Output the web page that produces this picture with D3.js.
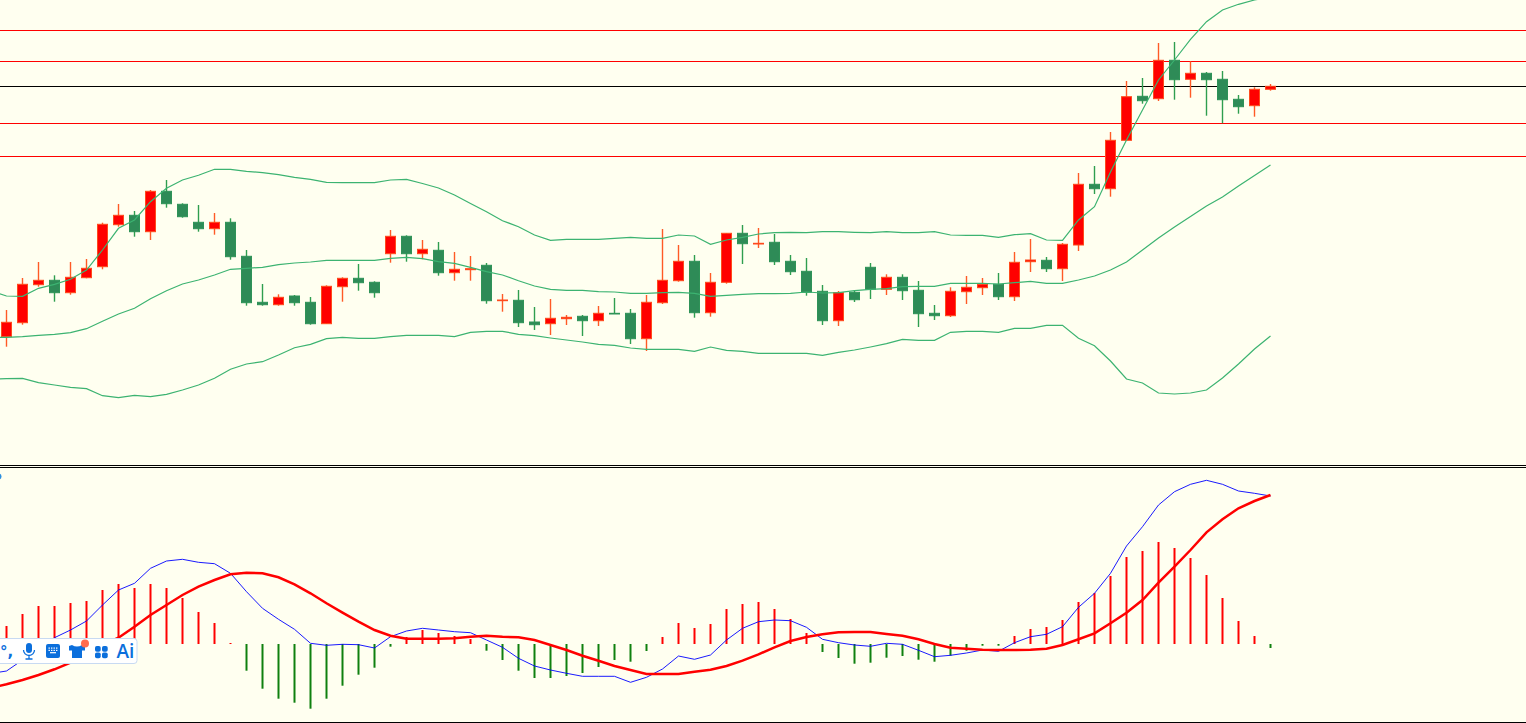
<!DOCTYPE html>
<html>
<head>
<meta charset="utf-8">
<script src="https://cdn.jsdelivr.net/npm/d3@7"></script>
<style>
html, body { margin: 0; padding: 0; background: #fffff0; overflow: hidden; }
svg { display: block; }
</style>
</head>
<body>
<svg id="chart" width="1526" height="723"></svg>
<script>
// first bar sits just off the left edge, the lines run in from it
const open = [125, 129.3,143.3,181.3,185.7,173.3,188.3,199.3,241.3,250.7,234.3,
  274.7,261.7,243.7,237.3,243.7,209.7,163.7,161.3,170,163.7,
  142.3,179.3,187.7,183.7,212.3,229.7,212.3,215.7,193.3,196.3,
  200.7,165.3,165.7,144,142.3,147.3,149.7,145.3,152.7,152.7,
  127.3,163.3,185.3,204.7,153.3,183.7,232.7,222,223.7,204.7,
  194.7,174.7,145.3,173.7,198.7,176.7,188.7,175.7,152.7,150.3,
  174.3,178.3,181.7,169.3,204.3,205.7,197.3,221,281.7,277.3,
  325.7,369.7,367.3,405.7,386.7,392.7,386.7,366.7,360.3,376.7];
const high = [136, 156,188,204,190.7,204,207,243.3,262,255,276,
  286,262.7,261,253,247.7,216,182,171.7,171,169,
  180.7,188.7,202,184.7,236,230.7,226,224,214,210,
  203,172,176,159,167,151,151,160,168,157,
  171,237,221,211,193,233,241,238,232,211,
  208,181,175,175.7,203,191.7,191.7,185,161,178.7,
  190,188,193,214,227,209,223,293,300,334,
  385,388,423,424,404.7,394,395,371,378.7,382];
const low = [120, 119.3,141.3,179.3,164.3,171.3,187.7,196.7,239.3,229.3,226,
  258.3,248.3,234.3,231.3,206.3,160.3,160.3,160.3,160.3,141.3,
  142.3,164.3,175.3,168.3,203.3,204.3,206.7,190.3,185.3,185.3,
  162.3,154.3,139,136,131,141,130,140,152,122,
  115,162,184.3,148.3,149.3,182.3,202,218,201,191,
  170.3,141,140,164,167,171,166,139,146,149,
  162,171,166,165,194,194,185,215,272,269.3,
  325,362.3,365,366.3,368.3,350.3,342.7,352.3,349.3,375.3];
const close = [129.3, 143.7,181.7,185.7,173.3,188.7,197.7,241.7,250.7,234.3,274.7,
  262.3,249.3,237.3,243.7,209.3,163.3,161.3,168.7,163.3,142.3,
  179.7,187.7,183.3,173.3,229.7,212.3,216.7,193.3,196.7,197.3,
  165.3,166,143.3,141.3,147.7,148.7,145.3,152.7,152,127.3,
  163.7,185.7,204.7,153.3,183.7,232.7,222.3,222.7,204.3,194.3,
  173.7,145.3,173.3,166.3,176.7,188.7,175.3,152.3,150.3,174.7,
  178.7,181.7,169.3,203.7,206,197.3,221.7,281.7,277.3,325.7,
  369.3,365.3,405.7,386.3,392.7,386.3,366.3,359.3,376.7,379.7];

const bandUpper = [175, 170,169.7,177.7,181.7,186.7,196,216,237.7,246,264.3,
  277.7,286,290.7,296.7,296.7,294.7,293.3,291.3,288.7,286.7,
  283.7,283.3,283.3,283.3,286,286.7,282.5,278,271,262.5,
  254.3,245.3,239.3,231,225.7,226.7,226.7,226.7,227.7,228.7,
  227.7,227.7,231,230,221.7,226,228.7,232,233.3,233.7,
  233.3,234.3,234.3,233.7,233.3,234.3,233.3,233.3,234.3,231,
  230.7,230.7,228.7,231.3,232.3,226,225.7,246,259.3,294,
  326,356,386,406,426.7,444.3,456,461.7,466,469];
const bandMiddle = [128.5, 128.7,129.3,130.7,131.7,133.3,137.3,144.7,152,157.7,167.3,
  175.3,182,186,191,196.7,197.7,198.7,201.3,203,204,
  205.7,205.7,205.7,205.7,207.7,208.7,207.3,204.3,202.7,198.7,
  194.3,191,185.3,180,176.7,175.7,175.7,174.3,174,172.7,
  172.7,173.3,173.7,172.7,169.7,170.7,171.7,172.3,172.3,172.7,
  174,173,173.3,175.3,176.7,177.3,179.3,179.7,179.7,182.7,
  182.7,182.7,182,183.3,184.7,182.7,182.7,186,190,196,
  204,216,228,239,249.5,260,269,280,290.5,301];
const bandLower = [87, 87.3,87.7,83.3,81,78.7,77.3,70.3,68.3,70.7,69.3,
  71.7,76,81,87.7,96.7,102,104.3,111,118.3,121.7,
  127.3,128.7,127.7,127.7,129.3,130.7,130.7,130.7,129.3,133.7,
  134.7,134.7,131.7,130.3,128,126,124,121.7,120.7,118,
  116.7,116.7,116.7,114.7,119,115.7,114.7,112.7,112.7,112.7,
  112.7,110.7,113.7,116,119,122.3,126.7,125.7,125.7,133.7,
  134.7,134.7,133.7,137.7,137.7,140.7,140.7,127.7,120.3,105,
  87,83,73,72,73,76,88,102,117,130];
const levelLines = [435.5, 404.5, 342.5, 309.5];
const currentLevel = 379.5;

// macd pane, zero line is where the histogram turns round
const hist = [4, 18,30,38,38,41,43,54,60,56,60,
  56,46,32,21,1,-26.7,-44.7,-54.7,-58.7,-64.7,
  -54.7,-41.7,-30.7,-23.7,-2.7,7,14,11,8,5,
  -6.7,-16,-26.7,-34,-34,-32,-29,-23,-16,-17.7,
  -7,7,21,16,20,35,40,42,35,25,
  11,-8,-14,-19.7,-18.7,-13.7,-12,-15.7,-17.7,-11.7,
  -6.7,-1.7,-1.7,8,15,17,24,42,51,68,
  87,93,102,96,86,69,46,23,8,-4];
const macdLine = [-29.5, -27,-16,-6,6.3,14,23,39,54,60.7,75.7,
  83,84.7,81.7,80.3,70.7,52.3,35.7,24.7,14.7,0.7,
  -1.3,-0.3,-0.7,-4,7.3,13,15.7,14,12.3,11.3,
  4,-3.3,-14.3,-22,-26,-29.3,-32.3,-32.3,-32.3,-38.3,
  -33.3,-25,-12,-15.3,-11,4,15.7,22.3,24,23.3,
  16.7,4.7,1.3,-1,-2.3,0.7,-0.3,-6.3,-12.7,-11.3,
  -9,-6,-7.3,1.3,7.3,9.7,17.3,36.7,50.7,70.7,
  98,117.3,139,152.3,159.7,163.7,159.7,153,150.7,148];
const signalLine = [-44, -40.3,-36,-31,-25.3,-18.7,-9,-1,6.3,17.3,29,
  39,49,57.3,64,69.7,71.3,70.7,66.7,59.7,50.7,
  40.7,31.3,22.3,14,8.3,5.3,5.3,5.3,5.7,7.3,
  8.3,7.3,6.7,4,-1,-6,-11.7,-16.7,-22,-26,
  -30,-30,-30,-27.7,-25.7,-22,-16.7,-10.3,-3.3,3,
  7,9.7,11.7,12,12,10,8.3,4.7,0,-3.7,
  -4.7,-5.7,-6,-6,-5.7,-4.7,-1,4.7,10.7,20.7,
  31.3,44,61.3,77.3,94,111.7,124.7,135.7,143,149];

const svg = d3.select('#chart');
const W = 1526, H = 723;

const x = d3.scaleLinear().domain([0, 80]).range([-9.5, 1270.5]);
const yPrice = d3.scaleLinear().domain([0, 466]).range([466, 0]);
const yMacd = d3.scaleLinear().domain([-78, 177]).range([722, 467]);

svg.append('rect').attr('width', W).attr('height', H).attr('fill', '#fffff0');

// price pane levels
levelLines.forEach(v => {
    svg.append('line')
        .attr('x1', 0).attr('x2', W)
        .attr('y1', yPrice(v)).attr('y2', yPrice(v))
        .attr('stroke', '#ff0000').attr('stroke-width', 1);
});
svg.append('line')
    .attr('x1', 0).attr('x2', W)
    .attr('y1', yPrice(currentLevel)).attr('y2', yPrice(currentLevel))
    .attr('stroke', '#000000').attr('stroke-width', 1);

// candles
const bars = d3.range(open.length);
const isUp = i => close[i] >= open[i];

svg.append('g').selectAll('line').data(bars).join('line')
    .attr('x1', i => x(i)).attr('x2', i => x(i))
    .attr('y1', i => yPrice(high[i])).attr('y2', i => yPrice(low[i]))
    .attr('stroke', i => isUp(i) ? '#ff5a26' : '#2f9e4f')
    .attr('stroke-width', 1.4);

svg.append('g').selectAll('rect').data(bars).join('rect')
    .attr('x', i => x(i) - 5)
    .attr('width', 10)
    .attr('y', i => yPrice(Math.max(open[i], close[i])))
    .attr('height', i => Math.abs(open[i] - close[i]))
    .attr('fill', i => isUp(i) ? '#ff0000' : '#2e8b57')
    .attr('stroke', i => isUp(i) ? '#ff4a1c' : '#2f9358')
    .attr('stroke-width', 1);

// bollinger bands
const bandLine = d3.line().x((d, i) => x(i)).y(d => yPrice(d));
[bandUpper, bandMiddle, bandLower].forEach(b => {
    svg.append('path').attr('d', bandLine(b))
        .attr('fill', 'none')
        .attr('stroke', '#3cb371')
        .attr('stroke-width', 1.2);
});

// pane separators
[465.5, 467.5, 722.5].forEach(y => {
    svg.append('line')
        .attr('x1', 0).attr('x2', W).attr('y1', y).attr('y2', y)
        .attr('stroke', '#000000').attr('stroke-width', 1);
});
svg.append('circle').attr('cx', -1.5).attr('cy', 476.5).attr('r', 3).attr('fill', '#2b8fe0');

// macd histogram and lines
svg.append('g').selectAll('line').data(hist).join('line')
    .attr('x1', (d, i) => x(i)).attr('x2', (d, i) => x(i))
    .attr('y1', yMacd(0)).attr('y2', d => yMacd(d))
    .attr('stroke', d => d >= 0 ? '#ff0000' : '#0f800f')
    .attr('stroke-width', 2);

const macdPath = d3.line().x((d, i) => x(i)).y(d => yMacd(d));
svg.append('path').attr('d', macdPath(macdLine))
    .attr('fill', 'none').attr('stroke', '#0000ff').attr('stroke-width', 0.9);
svg.append('path').attr('d', macdPath(signalLine))
    .attr('fill', 'none').attr('stroke', '#ff0000').attr('stroke-width', 2.5);

// floating input toolbar sitting over the picture
const bar = svg.append('g');
const blue = '#0b6fdc';
bar.append('rect')
    .attr('x', -20).attr('y', 638.5).attr('width', 157).attr('height', 25).attr('rx', 3)
    .attr('fill', '#ffffff').attr('stroke', '#c8daf2').attr('stroke-width', 1);
bar.append('text').attr('x', 0).attr('y', 657)
    .attr('font-family', 'DejaVu Sans').attr('font-size', 15).attr('font-weight', 'bold')
    .attr('fill', blue).text('°,');

// mic
bar.append('rect').attr('x', 26).attr('y', 643).attr('width', 6).attr('height', 10).attr('rx', 3).attr('fill', blue);
bar.append('path').attr('d', 'M23.5 650 a5.5 5.5 0 0 0 11 0 M29 655.5 V659 M25.5 659 H32.5')
    .attr('fill', 'none').attr('stroke', blue).attr('stroke-width', 1.3);

// keyboard
bar.append('rect').attr('x', 46).attr('y', 644).attr('width', 14).attr('height', 14).attr('rx', 2).attr('fill', blue);
d3.range(3).forEach(r => d3.range(4).forEach(c => {
    if (r === 2 && c !== 1) return;
    bar.append('rect')
        .attr('x', r === 2 ? 50 : 48.5 + c * 2.5).attr('y', 647.5 + r * 2.3)
        .attr('width', r === 2 ? 6 : 1.4).attr('height', 1.2)
        .attr('fill', '#ffffff');
}));

// shirt and badge
bar.append('path')
    .attr('d', 'M72 645 L69 646 L69 650.5 L72 650.5 L72 658 L82 658 L82 650.5 L85 650.5 L85 646 L82 645 Q77 648 72 645 Z')
    .attr('fill', blue);
bar.append('circle').attr('cx', 85).attr('cy', 643.5).attr('r', 4).attr('fill', '#ff6b4d');

// four squares
[[95, 646], [102, 646], [95, 652.5], [102, 652.5]].forEach(p => {
    bar.append('rect').attr('x', p[0]).attr('y', p[1])
        .attr('width', 5.7).attr('height', 5.7).attr('rx', 1.8).attr('fill', blue);
});

bar.append('text').attr('x', 116.5).attr('y', 658)
    .attr('font-family', 'Open Sans').attr('font-size', 19).attr('font-weight', 600)
    .attr('fill', blue).text('Ai');
</script>
</body>
</html>
